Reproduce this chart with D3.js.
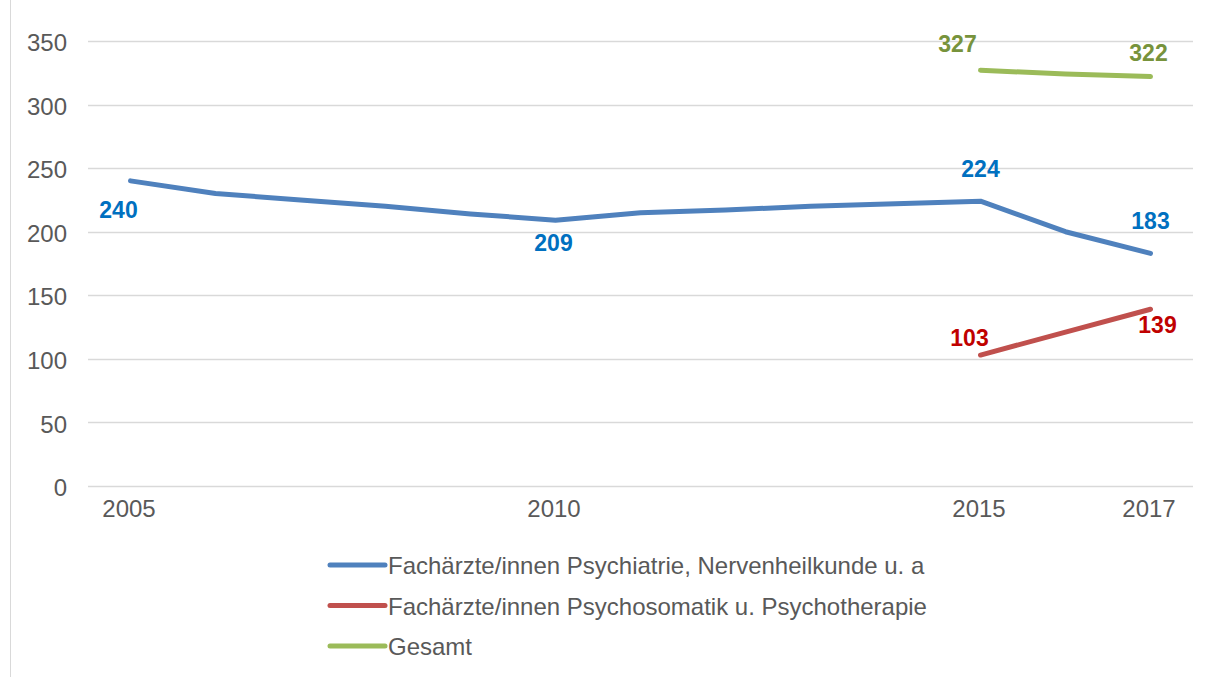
<!DOCTYPE html>
<html>
<head>
<meta charset="utf-8">
<script src="https://cdn.jsdelivr.net/npm/d3@7/dist/d3.min.js"></script>
<style>
  body { margin: 0; background: #fff; }
  svg { display: block; font-family: "Liberation Sans", Arial, sans-serif; }
</style>
</head>
<body>
<svg width="1211" height="677"></svg>
<script>
// data
const years = [2005, 2006, 2007, 2008, 2009, 2010, 2011, 2012, 2013, 2014, 2015, 2016, 2017];
const psychiatrie = [240, 230, 225, 220, 214, 209, 215, 217, 220, 222, 224, 200, 183];
const psychosomatik = [null, null, null, null, null, null, null, null, null, null, 103, 121, 139];
const gesamt = [null, null, null, null, null, null, null, null, null, null, 327, 324, 322];
const yTicks = [0, 50, 100, 150, 200, 250, 300, 350];
const xTickLabels = [2005, 2010, 2015, 2017];
const seriesNames = [
  "Fachärzte/innen Psychiatrie, Nervenheilkunde u. a",
  "Fachärzte/innen Psychosomatik u. Psychotherapie",
  "Gesamt"
];
const labelledYears = [[2005, 2010, 2015, 2017], [2015, 2017], [2015, 2017]];

const series = [
  { name: seriesNames[0], values: psychiatrie, color: "#4f81bd", labelColor: "#0070c0",
    labels: labelledYears[0], offsets: [[-12, 37], [-2, 31], [0, -24], [0, -24]] },
  { name: seriesNames[1], values: psychosomatik, color: "#c0504d", labelColor: "#c00000",
    labels: labelledYears[1], offsets: [[-11, -9], [7, 24]] },
  { name: seriesNames[2], values: gesamt, color: "#9bbb59", labelColor: "#77933c",
    labels: labelledYears[2], offsets: [[-23, -18], [-2, -16]] }
];

let svg = d3.select("svg");

// outer frame (only left edge visible in the reference)
svg.append("line")
  .attr("x1", 10.5).attr("x2", 10.5).attr("y1", 0).attr("y2", 677)
  .attr("stroke", "#d9d9d9").attr("stroke-width", 1);

let x = d3.scalePoint()
  .domain(years)
  .range([88, 1193])
  .padding(0.5);

let y = d3.scaleLinear()
  .domain([0, 350])
  .range([486, 41]);

// gridlines
svg.append("g")
  .selectAll("line")
  .data(yTicks)
  .enter().append("line")
  .attr("x1", 88).attr("x2", 1193)
  .attr("y1", d => Math.round(y(d)) + 0.5)
  .attr("y2", d => Math.round(y(d)) + 0.5)
  .attr("stroke", "#d9d9d9")
  .attr("stroke-width", 1.5);

// y axis labels
let yAxis = svg.append("g")
  .attr("transform", "translate(67,2)")
  .call(d3.axisLeft(y).tickValues(yTicks).tickSize(0).tickPadding(0));
yAxis.select(".domain").remove();
yAxis.selectAll("text")
  .attr("fill", "#595959")
  .style("font-size", "24px")
  .style("font-family", "'Liberation Sans', Arial, sans-serif");

// x axis labels
let xAxis = svg.append("g")
  .attr("transform", "translate(-2,500)")
  .call(d3.axisBottom(x).tickValues(xTickLabels).tickSize(0).tickPadding(0));
xAxis.select(".domain").remove();
xAxis.selectAll("text")
  .attr("fill", "#595959")
  .style("font-size", "24px")
  .style("font-family", "'Liberation Sans', Arial, sans-serif");

let line = d3.line()
  .defined(d => d[1] !== null)
  .x(d => x(d[0]))
  .y(d => y(d[1]));

series.forEach(s => {
  let pts = years.map((yr, i) => [yr, s.values[i]]);
  svg.append("path")
    .datum(pts)
    .attr("fill", "none")
    .attr("stroke", s.color)
    .attr("stroke-width", 5)
    .attr("stroke-linecap", "round")
    .attr("stroke-linejoin", "round")
    .attr("d", line);

  svg.append("g")
    .selectAll("text")
    .data(s.labels)
    .enter().append("text")
    .attr("x", (yr, i) => x(yr) + s.offsets[i][0])
    .attr("y", (yr, i) => y(s.values[years.indexOf(yr)]) + s.offsets[i][1])
    .attr("text-anchor", "middle")
    .attr("fill", s.labelColor)
    .style("font-size", "23px")
    .style("font-weight", "bold")
    .text(yr => s.values[years.indexOf(yr)]);
});

// legend
let legend = svg.append("g")
  .selectAll("g")
  .data(series)
  .enter().append("g")
  .attr("transform", (d, i) => `translate(0,${565 + i * 40.5})`);

legend.append("line")
  .attr("x1", 330).attr("x2", 385)
  .attr("y1", 0).attr("y2", 0)
  .attr("stroke", d => d.color)
  .attr("stroke-width", 5)
  .attr("stroke-linecap", "round");

legend.append("text")
  .attr("x", 388)
  .attr("y", 9)
  .attr("fill", "#595959")
  .style("font-size", "24px")
  .text(d => d.name);
</script>
</body>
</html>
